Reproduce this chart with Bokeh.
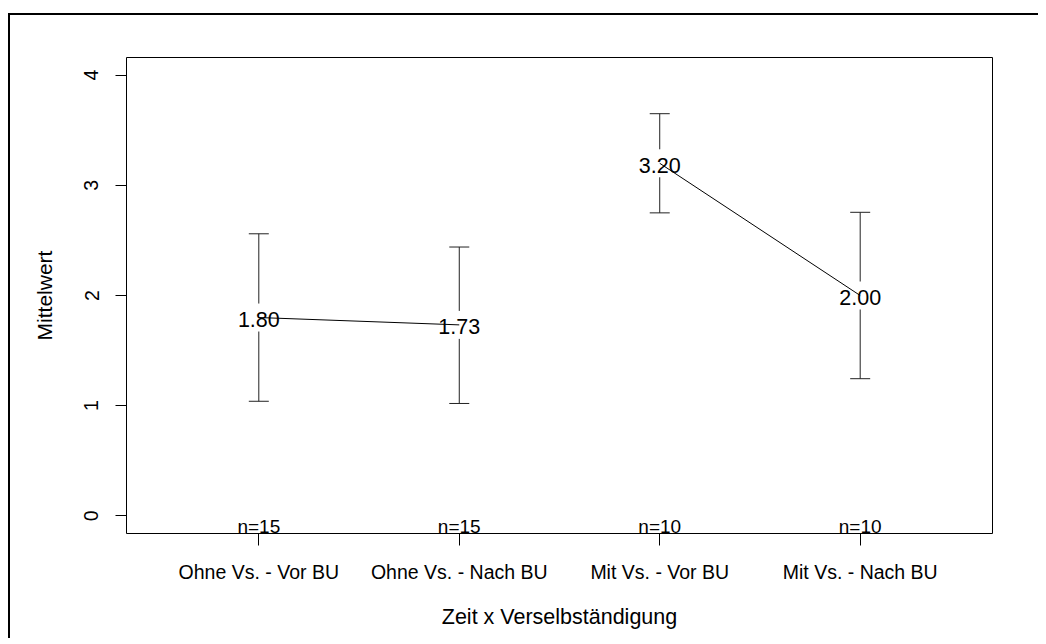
from bokeh.plotting import figure
from bokeh.models import Range1d, FixedTicker
from bokeh.core.properties import value
from bokeh.embed import file_html
from bokeh.resources import INLINE

# ---- data ----
categories = ["Ohne Vs. - Vor BU", "Ohne Vs. - Nach BU", "Mit Vs. - Vor BU", "Mit Vs. - Nach BU"]
positions = [1, 2, 3, 4]
means = [1.80, 1.7333, 3.20, 2.00]
upper = [2.56, 2.44, 3.65, 2.755]
lower = [1.04, 1.02, 2.75, 1.245]
n_labels = ["n=15", "n=15", "n=10", "n=10"]
y_ticks = [0, 1, 2, 3, 4]

FONT = "Liberation Sans"
GAP = 0.127  # gap of the error bar around the mean label (data units)
YMIN, YMAX = -0.16, 4.16

p = figure(width=1030, height=625, output_backend="svg", toolbar_location=None,
           x_range=Range1d(0.34, 4.66), y_range=Range1d(YMIN, YMAX),
           min_border_left=116, min_border_right=48, min_border_top=42, min_border_bottom=107,
           background_fill_color="white", border_fill_color="white")
p.styles = {"border-top": "2px solid black", "border-left": "2px solid black",
            "margin-top": "13px", "margin-left": "8px"}

p.grid.visible = False
p.outline_line_color = "black"
p.outline_line_width = 1

# axes
xa = p.xaxis[0]
xa.ticker = FixedTicker(ticks=positions)
xa.major_label_overrides = {pos: lab for pos, lab in zip(positions, categories)}
ya = p.yaxis[0]
ya.ticker = FixedTicker(ticks=y_ticks)
ya.major_label_orientation = "vertical"

for ax in (xa, ya):
    ax.axis_line_color = None
    ax.major_tick_line_color = "black"
    ax.major_tick_in = 0
    ax.minor_tick_line_color = None
    ax.major_label_text_font = FONT
    ax.major_label_text_font_size = "19.5px"
    ax.major_label_text_color = "black"
    ax.axis_label_text_font = FONT
    ax.axis_label_text_font_style = "normal"
    ax.axis_label_text_color = "black"

xa.major_tick_out = 12
xa.major_label_standoff = 15
xa.axis_label = "Zeit x Verselbständigung"
xa.axis_label_text_font_size = "21.5px"
xa.axis_label_standoff = 19

ya.major_tick_out = 11
ya.major_label_standoff = 17
ya.axis_label = "Mittelwert"
ya.axis_label_text_font_size = "21px"
ya.axis_label_standoff = 26

# error bars with gap around the label
up_from = [m + GAP for m in means]
lo_to = [m - GAP for m in means]
p.segment(x0=positions, y0=up_from, x1=positions, y1=upper, line_color="#222222", line_width=1)
p.segment(x0=positions, y0=lower, x1=positions, y1=lo_to, line_color="#222222", line_width=1)
p.dash(x=positions, y=upper, size=20, line_color="#222222", line_width=1)
p.dash(x=positions, y=lower, size=20, line_color="#222222", line_width=1)

# connecting lines
p.line(x=positions[:2], y=means[:2], line_color="black", line_width=1)
p.line(x=positions[2:], y=means[2:], line_color="black", line_width=1)

# mean labels
mean_text = [f"{m:.2f}" for m in means]
p.text(x=positions, y=means, text=mean_text, text_font=value(FONT), text_font_size="21.5px",
       text_align="center", text_baseline="middle", y_offset=2, text_color="black")

# n labels
p.text(x=positions, y=[YMIN] * 4, text=n_labels, text_font=value(FONT), text_font_size="19px",
       text_align="center", text_baseline="bottom", y_offset=3, text_color="black")

open("out.html", "w").write(file_html(p, INLINE))
